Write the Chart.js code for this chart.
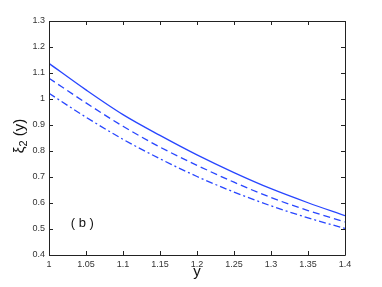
<!DOCTYPE html>
<html><head><meta charset="utf-8">
<script src="https://cdn.jsdelivr.net/npm/chart.js@4/dist/chart.umd.min.js"></script>
<style>html,body{margin:0;padding:0;background:#fff}#w{width:382px;height:287px}</style>
</head><body><div id="w"><canvas id="c" width="382" height="287"></canvas></div>
<script>
const xValues = [1, 1.05, 1.1, 1.15, 1.2, 1.25, 1.3, 1.35, 1.4];
const solidSeries = [1.137, 1.035, 0.94, 0.86, 0.785, 0.717, 0.655, 0.601, 0.551];
const dashedSeries = [1.08, 0.985, 0.895, 0.815, 0.745, 0.68, 0.621, 0.571, 0.527];
const dashDotSeries = [1.022, 0.93, 0.845, 0.77, 0.702, 0.642, 0.589, 0.543, 0.502];
const xTicks = [1, 1.05, 1.1, 1.15, 1.2, 1.25, 1.3, 1.35, 1.4];
const yTicks = [0.4, 0.5, 0.6, 0.7, 0.8, 0.9, 1, 1.1, 1.2, 1.3];
const panelLabel = '( b )';
const panelLabelPos = [1.045, 0.523];

const blue = 'rgb(40,70,255)';
const toPts = arr => xValues.map((x, i) => ({x: x, y: arr[i]}));
const FONT = '"Liberation Sans", Arial, sans-serif';

const decor = {
  id: 'decor',
  afterDraw(chart) {
    const ctx = chart.ctx, a = chart.chartArea;
    const xs = chart.scales.x, ys = chart.scales.y;
    ctx.save();
    ctx.strokeStyle = '#222';
    ctx.lineWidth = 1;
    ctx.beginPath();
    ctx.rect(Math.round(a.left) + 0.5, Math.round(a.top) + 0.5, Math.round(a.right - a.left), Math.round(a.bottom - a.top));
    ctx.stroke();
    const t = 4;
    ctx.beginPath();
    xTicks.forEach(v => {
      const p = Math.round(xs.getPixelForValue(v)) + 0.5;
      ctx.moveTo(p, a.bottom); ctx.lineTo(p, a.bottom - t);
      ctx.moveTo(p, a.top); ctx.lineTo(p, a.top + t);
    });
    yTicks.forEach(v => {
      const p = Math.round(ys.getPixelForValue(v)) + 0.5;
      ctx.moveTo(a.left, p); ctx.lineTo(a.left + t, p);
      ctx.moveTo(a.right, p); ctx.lineTo(a.right - t, p);
    });
    ctx.stroke();
    // panel label
    ctx.fillStyle = '#111';
    ctx.font = '13px ' + FONT;
    ctx.textAlign = 'center';
    ctx.textBaseline = 'middle';
    ctx.fillText(panelLabel, xs.getPixelForValue(panelLabelPos[0]), ys.getPixelForValue(panelLabelPos[1]));
    // x title
    ctx.font = '15px ' + FONT;
    ctx.fillText('y', (a.left + a.right) / 2, 272);
    // y title: ξ₂ (y)
    ctx.translate(20, 136);
    ctx.rotate(-Math.PI / 2);
    ctx.textAlign = 'left';
    ctx.textBaseline = 'middle';
    const f1 = '15px ' + FONT, f2 = '11px ' + FONT;
    ctx.font = f1; const w1 = ctx.measureText('ξ').width;
    ctx.font = f2; const w2 = ctx.measureText('2').width;
    ctx.font = f1; const w3 = ctx.measureText(' (y)').width;
    let x0 = -(w1 + w2 + w3) / 2;
    ctx.font = f1; ctx.fillText('ξ', x0, 0); x0 += w1;
    ctx.font = f2; ctx.fillText('2', x0, 4); x0 += w2;
    ctx.font = f1; ctx.fillText(' (y)', x0, 0);
    ctx.restore();
  }
};

new Chart(document.getElementById('c'), {
  type: 'line',
  data: {
    datasets: [
      {data: toPts(solidSeries), borderColor: blue, borderWidth: 1.3, pointRadius: 0, cubicInterpolationMode: 'monotone', fill: false},
      {data: toPts(dashedSeries), borderColor: blue, borderWidth: 1.3, borderDash: [7, 4], pointRadius: 0, cubicInterpolationMode: 'monotone', fill: false},
      {data: toPts(dashDotSeries), borderColor: blue, borderWidth: 1.3, borderDash: [7, 3, 2, 3], pointRadius: 0, cubicInterpolationMode: 'monotone', fill: false}
    ]
  },
  options: {
    responsive: false,
    animation: false,
    devicePixelRatio: 1,
    layout: {padding: {left: 0, right: 37, top: 21, bottom: 0}},
    plugins: {legend: {display: false}, tooltip: {enabled: false}},
    scales: {
      x: {
        type: 'linear', min: 1, max: 1.4,
        grid: {display: false, drawTicks: false},
        border: {display: false},
        afterBuildTicks: s => { s.ticks = xTicks.map(v => ({value: v})); },
        afterFit: s => { s.height = 32; },
        ticks: {padding: 4, color: '#333', font: {family: FONT, size: 9}, maxRotation: 0, autoSkip: false,
          callback: v => String(+v.toFixed(2))}
      },
      y: {
        type: 'linear', min: 0.4, max: 1.3,
        grid: {display: false, drawTicks: false},
        border: {display: false},
        afterBuildTicks: s => { s.ticks = yTicks.map(v => ({value: v})); },
        afterFit: s => { s.width = 49; },
        ticks: {padding: 4, color: '#333', font: {family: FONT, size: 9}, autoSkip: false,
          callback: v => String(+v.toFixed(1))}
      }
    }
  },
  plugins: [decor]
});
</script></body></html>
